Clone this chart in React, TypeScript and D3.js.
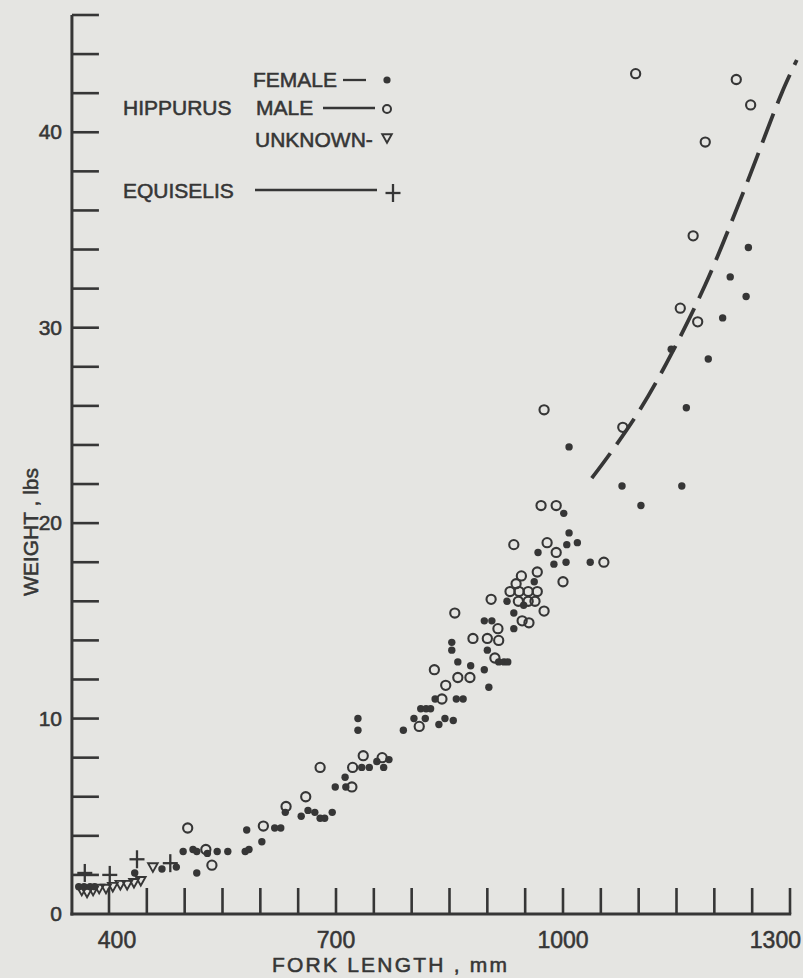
import React from 'react';
import * as d3 from 'd3';

const W = 803;
const H = 978;

// Hippurus female: [fork length mm, weight lbs]
const female: [number, number][] = [
  [360, 1.4], [367, 1.4], [375, 1.4], [381, 1.4], [434, 2.1], [470, 2.3], [489, 2.4], [516, 2.1],
  [498, 3.2], [511, 3.3], [516, 3.2], [530, 3.1], [543, 3.2], [557, 3.2], [580, 3.2], [585, 3.3],
  [582, 4.3], [602, 3.7], [619, 4.4], [627, 4.4], [633, 5.2], [654, 5.0], [663, 5.3], [672, 5.2],
  [679, 4.9], [685, 4.9], [695, 5.2], [699, 6.5], [712, 7.0], [713, 6.5], [734, 7.5], [744, 7.5],
  [754, 7.8], [763, 7.5], [770, 7.9], [729, 10.0], [729, 9.4], [789, 9.4], [803, 10.0], [812, 10.5],
  [819, 10.5], [825, 10.5], [818, 10.0], [836, 9.7], [844, 10.0], [855, 9.9], [831, 11.0], [859, 11.0],
  [868, 11.0], [878, 12.7], [896, 12.5], [902, 11.6], [853, 13.9], [853, 13.5], [861, 12.9], [900, 13.5],
  [915, 12.9], [922, 12.9], [927, 12.9], [896, 15.0], [906, 15.0], [935, 14.6], [926, 16.0], [935, 15.4],
  [948, 15.8], [962, 17.0], [988, 17.9], [1004, 18.0], [1036, 18.0], [967, 18.5], [1005, 18.9], [1019, 19.0],
  [1001, 20.5], [1008, 19.5], [1008, 23.9], [1078, 21.9], [1103, 20.9], [1157, 21.9], [1163, 25.9], [1143, 28.9],
  [1192, 28.4], [1211, 30.5], [1242, 31.6], [1221, 32.6], [1245, 34.1],
];

// Hippurus male
const male: [number, number][] = [
  [504, 4.4], [528, 3.3], [536, 2.5], [604, 4.5], [634, 5.5], [660, 6.0], [679, 7.5], [721, 6.5],
  [722, 7.5], [736, 8.1], [761, 8.0], [810, 9.6], [830, 12.5], [840, 11.0], [845, 11.7], [861, 12.1],
  [877, 12.1], [857, 15.4], [881, 14.1], [900, 14.1], [915, 14.0], [910, 13.1], [914, 14.6], [905, 16.1],
  [930, 16.5], [942, 16.5], [954, 16.5], [966, 16.5], [941, 16.0], [954, 16.0], [963, 16.0], [938, 16.9],
  [945, 17.3], [966, 17.5], [946, 15.0], [955, 14.9], [975, 15.5], [1000, 17.0], [1054, 18.0], [935, 18.9],
  [979, 19.0], [991, 18.5], [971, 20.9], [991, 20.9], [975, 25.8], [1079, 24.9], [1096, 43.0], [1229, 42.7],
  [1248, 41.4], [1188, 39.5], [1172, 34.7], [1155, 31.0], [1178, 30.3],
];

// Hippurus unknown sex
const unknown: [number, number][] = [
  [364, 1.2], [371, 1.1], [379, 1.2], [387, 1.3], [396, 1.3], [405, 1.4], [415, 1.5], [424, 1.5],
  [433, 1.6], [442, 1.7], [458, 2.4],
];

// Equiselis
const equiselis: [number, number][] = [
  [368, 2.1], [401, 2.0], [437, 2.8], [481, 2.6],
];

// Dashed curve drawn through the upper range
const curve: [number, number][] = [
  [1038, 22.3], [1063, 23.6], [1100, 25.7], [1137, 28.2], [1188, 32.2], [1238, 36.9], [1289, 42.0], [1309, 43.7],
];

const xTickLabels = [400, 700, 1000, 1300];
const yTickLabels = [0, 10, 20, 30, 40];
const xMinor = d3.range(400, 1301, 50);
const yMinor = d3.range(2, 47, 2);

const BG = '#e5e5e2';
const INK = '#363636';
const FONT = '"Liberation Sans", Arial, sans-serif';

const x = d3.scaleLinear().domain([400, 1300]).range([109, 790]);
const y = d3.scaleLinear().domain([0, 46]).range([914, 15]);
const axisX = x(351);

const tri = (cx: number, cy: number) => `M${cx - 4.8},${cy - 3.8}L${cx + 4.8},${cy - 3.8}L${cx},${cy + 4.8}Z`;

function Plus({ cx, cy }: { cx: number; cy: number }) {
  return (
    <g stroke={INK} strokeWidth={2.3}>
      <line x1={cx - 7.5} x2={cx + 7.5} y1={cy} y2={cy} />
      <line x1={cx} x2={cx} y1={cy - 9} y2={cy + 9} />
    </g>
  );
}

const textStyle = { stroke: INK, strokeWidth: 0.55, fill: INK } as const;

export default function App() {
  const line = d3.line<[number, number]>().x(d => x(d[0])).y(d => y(d[1])).curve(d3.curveCatmullRom);
  return (
    <svg width={W} height={H} style={{ position: 'absolute', left: 0, top: 0 }} fontFamily={FONT}>
      <rect width={W} height={H} fill={BG} />
      {/* axes */}
      <line x1={axisX} x2={axisX} y1={y(0) + 1.5} y2={y(46)} stroke={INK} strokeWidth={3} />
      <line x1={axisX - 1.5} x2={x(1300) + 1.2} y1={y(0)} y2={y(0)} stroke={INK} strokeWidth={3} />
      {yMinor.map(v => (
        <line key={'yt' + v} x1={axisX} x2={axisX + 27} y1={y(v)} y2={y(v)} stroke={INK} strokeWidth={2.6} />
      ))}
      {xMinor.map(v => (
        <line key={'xt' + v} x1={x(v)} x2={x(v)} y1={y(0)} y2={y(0) - 26} stroke={INK} strokeWidth={2.6} />
      ))}
      <g {...textStyle}>
        {yTickLabels.map(v => (
          <text key={'yl' + v} x={62} y={y(v) + 7} textAnchor="end" fontSize={21}>{v}</text>
        ))}
        {xTickLabels.map(v => (
          <text key={'xl' + v} x={v === 1300 ? W - 2 : x(v) + (v === 400 ? 8 : 0)} y={948}
            textAnchor={v === 1300 ? 'end' : 'middle'} fontSize={23}>{v}</text>
        ))}
        <text x={272} y={972} fontSize={21} textLength={235} lengthAdjust="spacing">FORK LENGTH , mm</text>
        <text transform={`translate(38,532) rotate(-90)`} textAnchor="middle" fontSize={21}>WEIGHT , lbs</text>

        {/* legend */}
        <g fontSize={21}>
          <text x={253} y={87}>FEMALE</text>
          <text x={123} y={115}>HIPPURUS</text>
          <text x={256} y={115}>MALE</text>
          <text x={255} y={147}>UNKNOWN-</text>
          <text x={123} y={198}>EQUISELIS</text>
        </g>
      </g>
      <line x1={343} x2={366} y1={80} y2={80} stroke={INK} strokeWidth={2.3} />
      <circle cx={387} cy={80} r={3.6} fill={INK} />
      <line x1={323} x2={375} y1={108} y2={108} stroke={INK} strokeWidth={2.3} />
      <circle cx={387} cy={109} r={4} fill="none" stroke={INK} strokeWidth={2} />
      <path d={tri(387, 138)} fill="none" stroke={INK} strokeWidth={1.9} />
      <line x1={255} x2={377} y1={190} y2={190} stroke={INK} strokeWidth={2.3} />
      <Plus cx={393} cy={193} />

      {/* dashed curve */}
      <path d={line(curve) || ''} fill="none" stroke={INK} strokeWidth={3.8} strokeDasharray="31 11" />

      {/* data */}
      {unknown.map((d, i) => (
        <path key={'u' + i} d={tri(x(d[0]), y(d[1]))} fill="none" stroke={INK} strokeWidth={1.9} />
      ))}
      {equiselis.map((d, i) => <Plus key={'e' + i} cx={x(d[0])} cy={y(d[1])} />)}
      {male.map((d, i) => (
        <circle key={'m' + i} cx={x(d[0])} cy={y(d[1])} r={4.6} fill="none" stroke={INK} strokeWidth={2.1} />
      ))}
      {female.map((d, i) => (
        <circle key={'f' + i} cx={x(d[0])} cy={y(d[1])} r={3.7} fill={INK} />
      ))}
    </svg>
  );
}
